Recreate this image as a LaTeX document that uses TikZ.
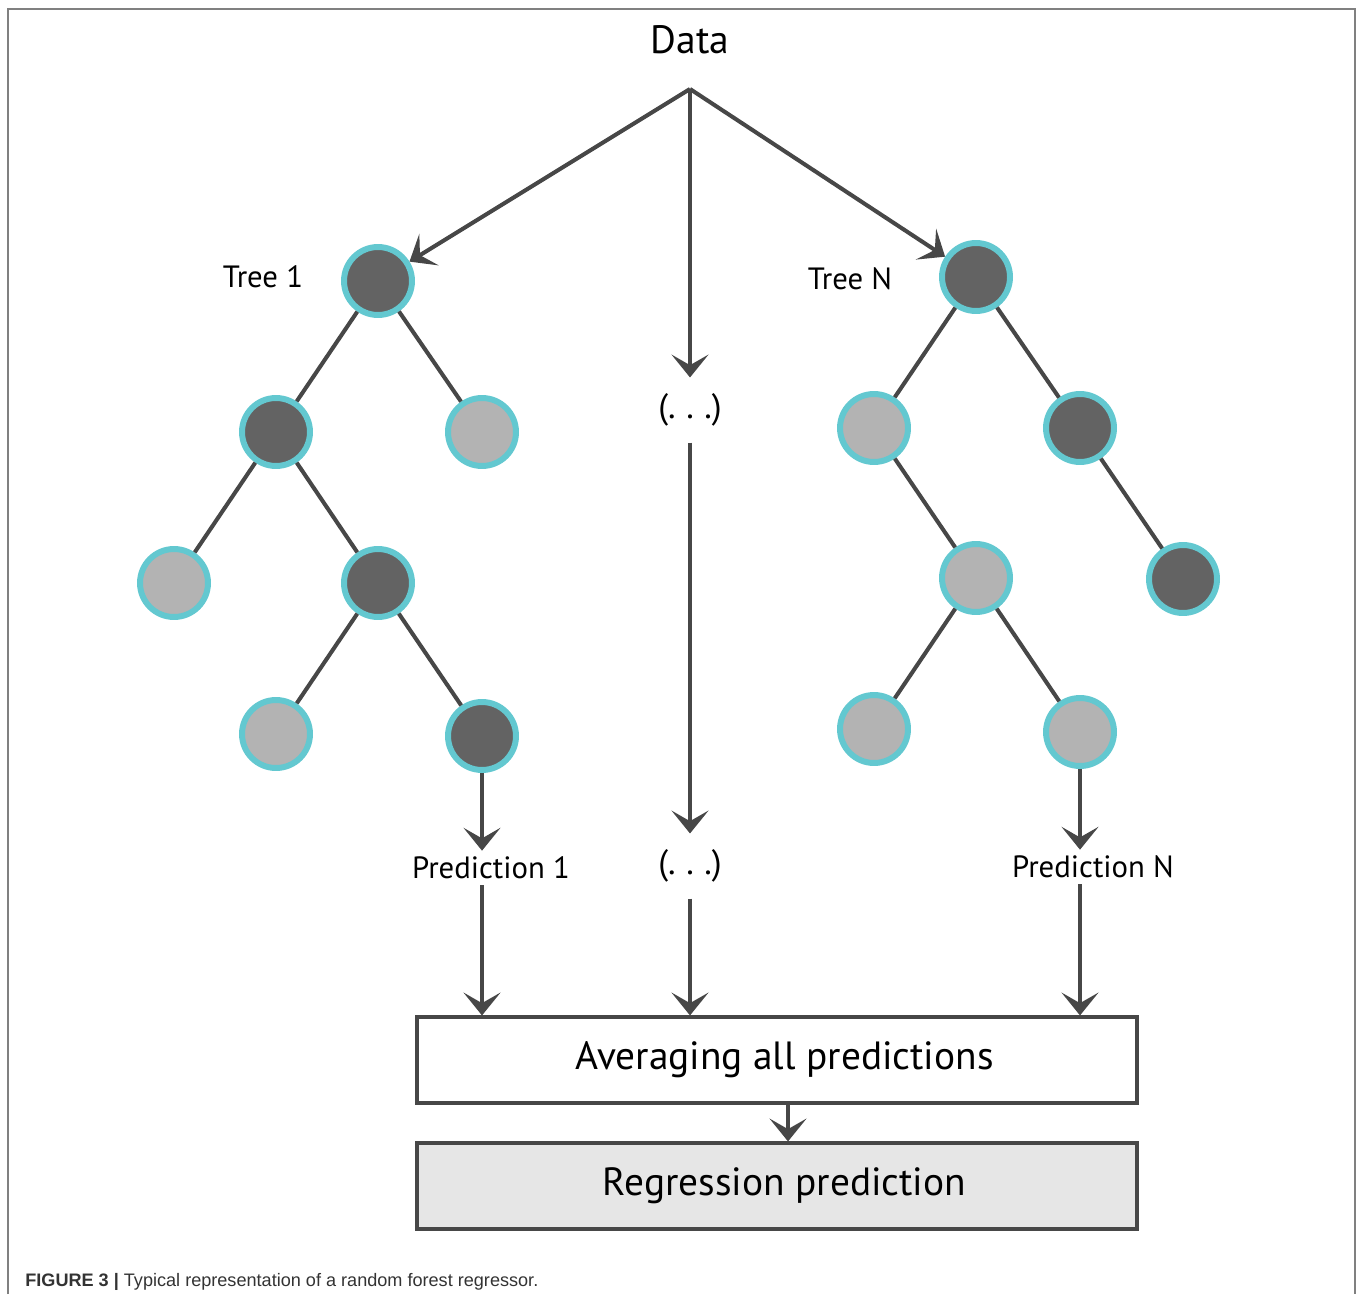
\documentclass[tikz,border=0pt]{standalone}
\usepackage{fontspec}
\setmainfont{PT Sans}
\newfontfamily\capfont{Liberation Sans}
\usetikzlibrary{arrows.meta}
\definecolor{linegray}{HTML}{474747}
\definecolor{darknode}{HTML}{636363}
\definecolor{lightnode}{HTML}{B3B3B3}
\definecolor{rimcyan}{HTML}{63C8D0}
\definecolor{boxfill}{HTML}{E6E6E6}
\newcommand{\gap}{(.\hspace{0.3em}.\hspace{0.3em}.)}
\begin{document}
\begin{tikzpicture}[
    x=0.02cm, y=-0.02cm,
    leaf/.style={circle, draw=rimcyan, line width=3.4pt, minimum size=1.36cm,
                 inner sep=0pt, outer sep=1.7pt},
    dark/.style={leaf, fill=darknode},
    light/.style={leaf, fill=lightnode},
    edge/.style={linegray, line width=2.3pt},
    flow/.style={edge, -{Stealth[length=13pt, width=21pt, inset=6pt]}},
    stage/.style={draw=linegray, line width=1.8pt, minimum width=14.4cm,
                  minimum height=1.72cm, font=\fontsize{22.4}{26}\selectfont},
    lbl/.style={font=\fontsize{17.5}{21}\selectfont},
    etc/.style={font=\fontsize{20}{24}\selectfont, inner ysep=9pt},
  ]
    \useasboundingbox (0,0) rectangle (1358,1294);
    \draw[gray, line width=1.2pt] (8,1294) -- (8,9) -- (1355,9) -- (1355,1294);

    % data and the three branches
    \node[font=\fontsize{22.5}{26}\selectfont] (data) at (690,40) {Data};
    \coordinate (top) at (690,89);

    % Tree 1
    \node[lbl] (name1) at (263,277) {Tree 1};
    \node[dark]  (a0)   at (378,281) {};
    \node[dark]  (a1)   at (276,432) {};
    \node[light] (a2)   at (482,432) {};
    \node[light] (a11)  at (174,583) {};
    \node[dark]  (a12)  at (378,583) {};
    \node[light] (a121) at (276,734) {};
    \node[dark]  (a122) at (482,736) {};

    \draw[edge] (a0) -- (a1);
    \draw[edge] (a0) -- (a2);
    \draw[edge] (a1) -- (a11);
    \draw[edge] (a1) -- (a12);
    \draw[edge] (a12) -- (a121);
    \draw[edge] (a12) -- (a122);

    % Tree N
    \node[lbl] (nameN) at (850,279) {Tree N};
    \node[dark]  (b0)   at (976,277) {};
    \node[light] (b1)   at (874,428) {};
    \node[dark]  (b2)   at (1080,428) {};
    \node[light] (b12)  at (976,578) {};
    \node[dark]  (b22)  at (1183,579) {};
    \node[light] (b121) at (874,729) {};
    \node[light] (b122) at (1080,732) {};

    \draw[edge] (b0) -- (b1);
    \draw[edge] (b0) -- (b2);
    \draw[edge] (b1) -- (b12);
    \draw[edge] (b2) -- (b22);
    \draw[edge] (b12) -- (b121);
    \draw[edge] (b12) -- (b122);

    % middle column
    \node[etc] (dots1) at (690,410) {\gap};
    \node[etc] (dots2) at (690,866) {\gap};

    \draw[edge] (top) -- (data.south |- top);
    \draw[flow] (top) -- (a0);
    \draw[flow] (top) -- (b0);
    \draw[flow] (top) -- (dots1.north);

    % predictions
    \node[lbl] (pred1) at (491,868) {Prediction 1};
    \node[lbl] (predN) at (1093,867) {Prediction N};

    \node[stage] (avg) at (777,1060) {\hspace{0.3cm}Averaging all predictions};
    \node[stage, fill=boxfill] (reg) at (777,1186) {\hspace{0.3cm}Regression prediction};

    \draw[flow] (a122) -- (a122 |- pred1.north);
    \draw[flow] (b122) -- (b122 |- predN.north);
    \draw[flow] (dots1.south) -- (dots2.north);
    \draw[flow] (a122 |- pred1.south) -- (a122 |- avg.north);
    \draw[flow] (dots2.south) -- (dots2 |- avg.north);
    \draw[flow] (b122 |- predN.south) -- (b122 |- avg.north);
    \draw[flow] ([xshift=0.22cm]avg.south) -- ([xshift=0.22cm]reg.north);

    % caption
    \node[anchor=base west, font=\capfont\fontsize{10.3}{12}\selectfont, text=black!80, inner sep=0pt]
      (cap) at (25,1286) {\textbf{FIGURE 3 |} Typical representation of a random forest regressor.};
  \end{tikzpicture}
\end{document}
